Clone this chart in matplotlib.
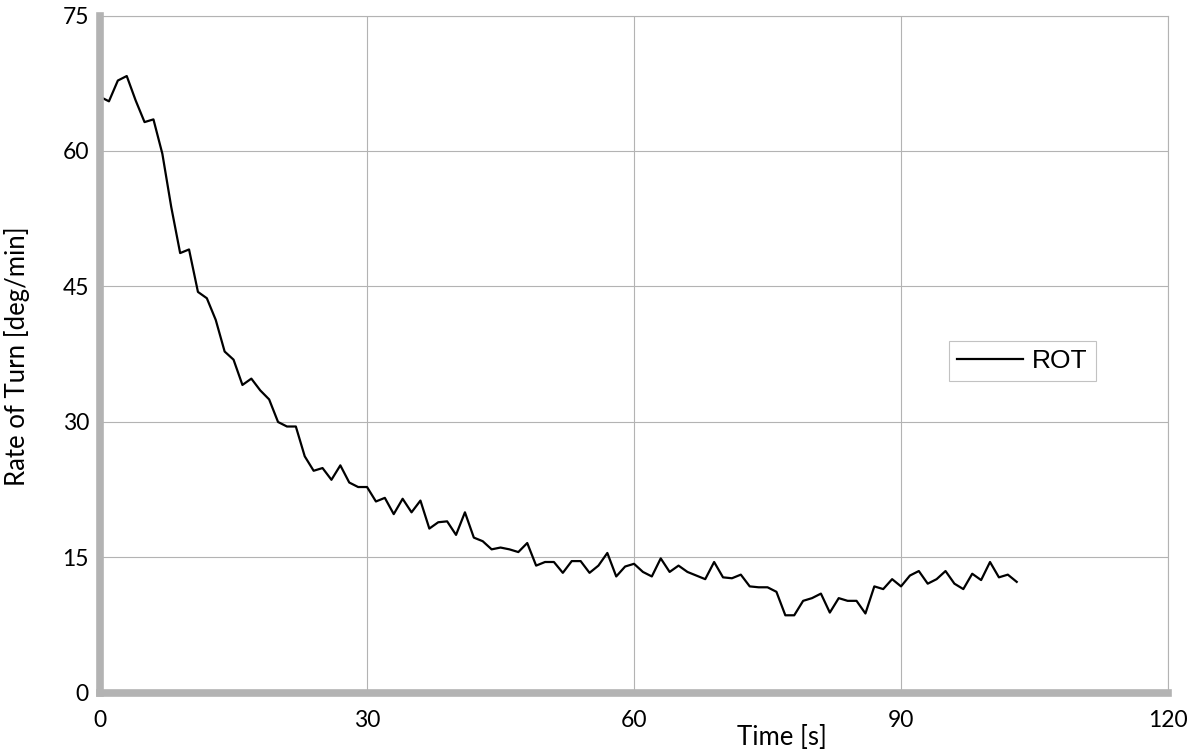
import matplotlib
matplotlib.use("Agg")
import matplotlib.pyplot as plt
from matplotlib.ticker import MultipleLocator

# rate of turn sampled once per second
temps = list(range(104))
rot = [
    66.0, 65.5, 67.8, 68.3, 65.6, 63.2, 63.5, 59.7, 53.8, 48.7,
    49.1, 44.4, 43.7, 41.3, 37.8, 36.9, 34.1, 34.8, 33.5, 32.5,
    30.0, 29.5, 29.5, 26.2, 24.6, 24.9, 23.6, 25.2, 23.3, 22.8,
    22.8, 21.2, 21.6, 19.8, 21.5, 20.0, 21.3, 18.2, 18.9, 19.0,
    17.5, 20.0, 17.2, 16.8, 15.9, 16.1, 15.9, 15.6, 16.6, 14.1,
    14.5, 14.5, 13.3, 14.6, 14.6, 13.3, 14.1, 15.5, 12.9, 14.0,
    14.3, 13.4, 12.9, 14.9, 13.4, 14.1, 13.4, 13.0, 12.6, 14.5,
    12.8, 12.7, 13.1, 11.8, 11.7, 11.7, 11.2, 8.6, 8.6, 10.2,
    10.5, 11.0, 8.9, 10.5, 10.2, 10.2, 8.8, 11.8, 11.5, 12.6,
    11.8, 13.0, 13.5, 12.1, 12.6, 13.5, 12.1, 11.5, 13.2, 12.5,
    14.5, 12.8, 13.1, 12.3,
]

gris = "#b3b3b3"
police = ["Lato", "DejaVu Sans"]

fig = plt.figure(figsize=(11.91, 7.49), dpi=100)
ax = fig.add_axes([0.084, 0.0748, 0.8967, 0.9045])

ax.plot(temps, rot, color="black", linewidth=1.6, label="ROT")

ax.set_xlim(0, 120)
ax.set_ylim(0, 75)
ax.xaxis.set_major_locator(MultipleLocator(30))
ax.yaxis.set_major_locator(MultipleLocator(15))
ax.grid(True, color=gris, linewidth=0.8)
ax.set_axisbelow(True)

# bordure epaisse a gauche et en bas, fine en haut et a droite
for cote in ("left", "bottom"):
    ax.spines[cote].set_color(gris)
    ax.spines[cote].set_linewidth(5.5)
for cote in ("top", "right"):
    ax.spines[cote].set_color(gris)
    ax.spines[cote].set_linewidth(0.8)

ax.tick_params(axis="both", length=0, labelsize=16.5)
ax.tick_params(axis="y", pad=8)
ax.tick_params(axis="x", pad=12)
for lab in ax.get_xticklabels() + ax.get_yticklabels():
    lab.set_family(police)

ax.set_xlabel("Time [s]", fontsize=18.5, family=police)
ax.set_ylabel("Rate of Turn [deg/min]", fontsize=18.5, family=police)
ax.xaxis.set_label_coords(0.6386, -0.047)
ax.yaxis.set_label_coords(-0.066, 0.497)

leg = ax.legend(loc="center", bbox_to_anchor=(0.8638, 0.49),
                prop={"family": "Liberation Sans", "size": 19},
                frameon=True, fancybox=False, handlelength=2.5,
                handletextpad=0.35, borderpad=0.3, borderaxespad=0)
leg.get_frame().set_edgecolor(gris)
leg.get_frame().set_linewidth(0.8)

fig.savefig("out.png", dpi=100)
